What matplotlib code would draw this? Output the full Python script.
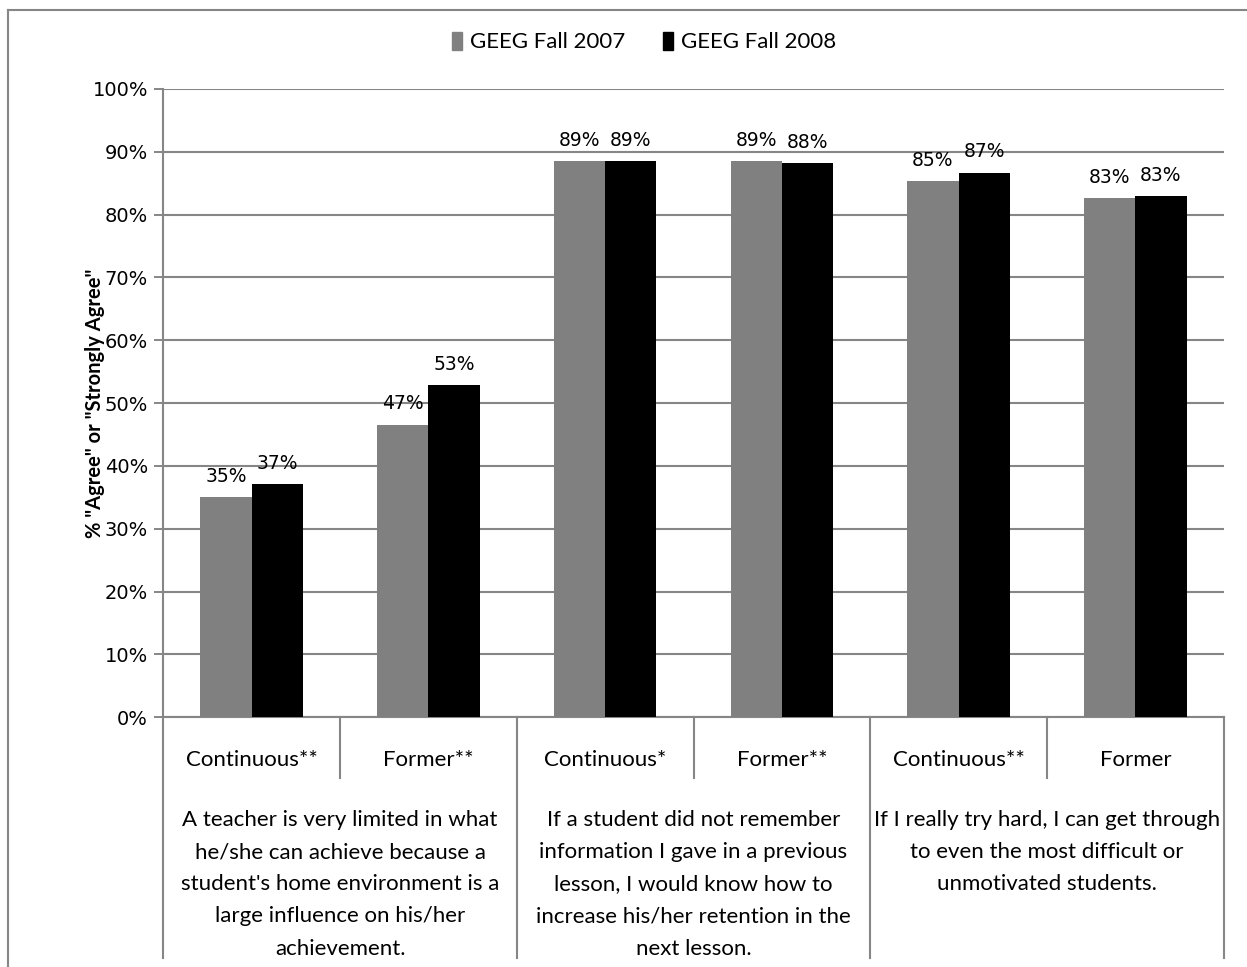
import matplotlib
matplotlib.use("Agg")
import matplotlib.pyplot as plt
from matplotlib.lines import Line2D
from matplotlib.patches import Patch
import numpy as np


SUBGROUPS = ["Continuous**", "Former**", "Continuous*", "Former**", "Continuous**", "Former"]
STATEMENTS = [
    "A teacher is very limited in what\nhe/she can achieve because a\nstudent's home environment is a\nlarge influence on his/her\nachievement.",
    "If a student did not remember\ninformation I gave in a previous\nlesson, I would know how to\nincrease his/her retention in the\nnext lesson.",
    "If I really try hard, I can get through\nto even the most difficult or\nunmotivated students.",
]
FALL_2007 = [35.0, 46.6, 88.6, 88.6, 85.3, 82.6]
FALL_2008 = [37.1, 52.9, 88.6, 88.2, 86.7, 83.0]
SERIES_NAMES = ["GEEG Fall 2007", "GEEG Fall 2008"]

GRID = "#868686"
CAT_FONT = "Lato"
NUM_FONT = "DejaVu Sans"

W, H = 1247, 967
fig = plt.figure(figsize=(W / 100, H / 100), dpi=100)
ax = fig.add_axes([163.3 / W, 1 - 717.3 / H, (1223.7 - 163.3) / W, (717.3 - 89) / H])

x = np.arange(len(SUBGROUPS))
bw = 0.29
bars_a = ax.bar(x - bw / 2, np.array(FALL_2007) / 100, bw, color="#808080", zorder=3)
bars_b = ax.bar(x + bw / 2, np.array(FALL_2008) / 100, bw, color="#000000", zorder=3)

for bars, vals in [(bars_a, FALL_2007), (bars_b, FALL_2008)]:
    for bar, v in zip(bars, vals):
        ax.annotate(f"{v:.0f}%", (bar.get_x() + bar.get_width() / 2, v / 100),
                    xytext=(0, 8), textcoords="offset points", ha="center", va="bottom",
                    fontsize=13.5, family=NUM_FONT, color="black")

ax.set_xlim(-0.5, len(SUBGROUPS) - 0.5)
ax.set_ylim(0, 1)
ax.set_yticks(np.arange(0, 1.01, 0.1))
ax.set_yticklabels([f"{int(round(t * 100))}%" for t in np.arange(0, 1.01, 0.1)],
                   fontsize=14, family=NUM_FONT)
ax.tick_params(axis="y", length=6.5, width=1.4, color=GRID, pad=4.5)
ax.set_xticks([])
ax.grid(axis="y", color=GRID, linewidth=1.5, zorder=0)
for side in ["top", "right"]:
    ax.spines[side].set_visible(False)
for side in ["left", "bottom"]:
    ax.spines[side].set_color(GRID)
    ax.spines[side].set_linewidth(1.5)

ax.text((95 - 163.3) / (1223.7 - 163.3), 0.5, '% "Agree" or "Strongly Agree"', transform=ax.transAxes,
        rotation=90, ha="center", va="center", fontsize=14.5, fontweight="bold", family=CAT_FONT)

# two-level category axis below the plot
tr = ax.get_xaxis_transform()
ax_h = 717.3 - 89
def yfrac(py):
    return (717.3 - py) / ax_h

for xi in np.arange(-0.5, len(SUBGROUPS), 1.0):
    bottom = 958 if int(round(xi + 0.5)) % 2 == 0 else 778
    ax.plot([xi, xi], [0, yfrac(bottom)], transform=tr, color=GRID, lw=1.5, clip_on=False)

for xi, lab in zip(x, SUBGROUPS):
    ax.text(xi, yfrac(760), lab, transform=tr, ha="center", va="center",
            fontsize=16, family=CAT_FONT)

for i, lab in enumerate(STATEMENTS):
    ax.text(2 * i + 0.5, yfrac(810), lab, transform=tr, ha="center", va="top",
            fontsize=16, family=CAT_FONT, linespacing=1.76)

# outer frame of the figure box
fig.add_artist(Line2D([8 / W, 8 / W], [0, 1 - 10 / H], color=GRID, lw=1.5))
fig.add_artist(Line2D([8 / W, 1], [1 - 10 / H, 1 - 10 / H], color=GRID, lw=1.5))

handles = [Patch(color="#808080"), Patch(color="#000000")]
fig.legend(handles, SERIES_NAMES, loc="center", bbox_to_anchor=(644 / W, 1 - 42 / H),
           ncol=2, frameon=False, prop={"family": CAT_FONT, "size": 16},
           handlelength=0.45, handleheight=0.9, handletextpad=0.35, columnspacing=1.7)

fig.savefig("out.png", dpi=100)
